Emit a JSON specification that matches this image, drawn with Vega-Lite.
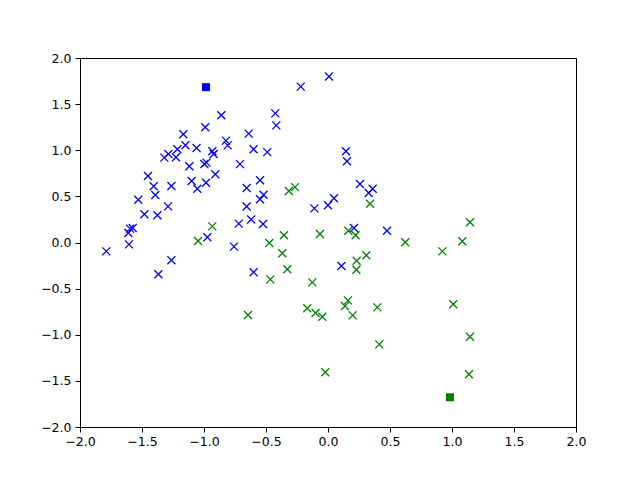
{
  "$schema": "https://vega.github.io/schema/vega-lite/v6.json",
  "width": 496,
  "height": 369,
  "autosize": {"type": "none"},
  "padding": {"left": 80, "top": 58, "right": 64, "bottom": 53},
  "background": "white",
  "config": {
    "view": {"stroke": "black", "strokeWidth": 1},
    "axis": {
      "grid": false,
      "domain": false,
      "tickColor": "black",
      "tickSize": 5,
      "tickWidth": 1,
      "labelFont": "DejaVu Sans",
      "labelFontSize": 12.5,
      "labelColor": "black",
      "labelFlush": false,
      "labelOverlap": false,
      "labelPadding": 4,
      "title": null
    },
    "axisX": {"labelPadding": 3}
  },
  "datasets": {
    "pts": [
      {"x": 0.008, "y": 1.80, "c": "blue"},
      {"x": -0.22, "y": 1.69, "c": "blue"},
      {"x": -0.425, "y": 1.40, "c": "blue"},
      {"x": -0.417, "y": 1.27, "c": "blue"},
      {"x": -0.64, "y": 1.18, "c": "blue"},
      {"x": -0.60, "y": 1.01, "c": "blue"},
      {"x": -0.49, "y": 0.98, "c": "blue"},
      {"x": 0.145, "y": 0.99, "c": "blue"},
      {"x": 0.153, "y": 0.88, "c": "blue"},
      {"x": -0.71, "y": 0.85, "c": "blue"},
      {"x": -0.548, "y": 0.674, "c": "blue"},
      {"x": -0.656, "y": 0.59, "c": "blue"},
      {"x": 0.258, "y": 0.634, "c": "blue"},
      {"x": 0.36, "y": 0.583, "c": "blue"},
      {"x": 0.328, "y": 0.537, "c": "blue"},
      {"x": -0.52, "y": 0.518, "c": "blue"},
      {"x": -0.548, "y": 0.468, "c": "blue"},
      {"x": 0.048, "y": 0.48, "c": "blue"},
      {"x": 0.0, "y": 0.403, "c": "blue"},
      {"x": -0.11, "y": 0.37, "c": "blue"},
      {"x": -0.656, "y": 0.39, "c": "blue"},
      {"x": -0.62, "y": 0.25, "c": "blue"},
      {"x": -0.72, "y": 0.205, "c": "blue"},
      {"x": -0.524, "y": 0.20, "c": "blue"},
      {"x": 0.21, "y": 0.157, "c": "blue"},
      {"x": 0.476, "y": 0.128, "c": "blue"},
      {"x": -0.86, "y": 1.379, "c": "blue"},
      {"x": -0.99, "y": 1.249, "c": "blue"},
      {"x": -1.167, "y": 1.173, "c": "blue"},
      {"x": -1.15, "y": 1.054, "c": "blue"},
      {"x": -1.06, "y": 1.024, "c": "blue"},
      {"x": -1.215, "y": 1.01, "c": "blue"},
      {"x": -1.287, "y": 0.959, "c": "blue"},
      {"x": -1.32, "y": 0.92, "c": "blue"},
      {"x": -1.226, "y": 0.924, "c": "blue"},
      {"x": -0.823, "y": 1.104, "c": "blue"},
      {"x": -0.809, "y": 1.053, "c": "blue"},
      {"x": -0.933, "y": 0.989, "c": "blue"},
      {"x": -0.922, "y": 0.96, "c": "blue"},
      {"x": -1.118, "y": 0.826, "c": "blue"},
      {"x": -0.997, "y": 0.851, "c": "blue"},
      {"x": -0.98, "y": 0.866, "c": "blue"},
      {"x": -0.909, "y": 0.739, "c": "blue"},
      {"x": -1.452, "y": 0.721, "c": "blue"},
      {"x": -1.406, "y": 0.609, "c": "blue"},
      {"x": -1.263, "y": 0.612, "c": "blue"},
      {"x": -1.10, "y": 0.667, "c": "blue"},
      {"x": -1.054, "y": 0.583, "c": "blue"},
      {"x": -0.984, "y": 0.648, "c": "blue"},
      {"x": -1.393, "y": 0.515, "c": "blue"},
      {"x": -1.53, "y": 0.464, "c": "blue"},
      {"x": -1.29, "y": 0.392, "c": "blue"},
      {"x": -1.481, "y": 0.306, "c": "blue"},
      {"x": -1.376, "y": 0.295, "c": "blue"},
      {"x": -1.597, "y": 0.15, "c": "blue"},
      {"x": -1.575, "y": 0.157, "c": "blue"},
      {"x": -1.61, "y": 0.103, "c": "blue"},
      {"x": -1.605, "y": -0.02, "c": "blue"},
      {"x": -0.973, "y": 0.056, "c": "blue"},
      {"x": -0.758, "y": -0.045, "c": "blue"},
      {"x": -1.788, "y": -0.096, "c": "blue"},
      {"x": -1.368, "y": -0.345, "c": "blue"},
      {"x": -1.263, "y": -0.193, "c": "blue"},
      {"x": -0.60, "y": -0.323, "c": "blue"},
      {"x": 0.108, "y": -0.255, "c": "blue"},
      {"x": -0.315, "y": 0.558, "c": "green"},
      {"x": -0.266, "y": 0.60, "c": "green"},
      {"x": 0.339, "y": 0.42, "c": "green"},
      {"x": -0.473, "y": -0.005, "c": "green"},
      {"x": -0.355, "y": 0.078, "c": "green"},
      {"x": -0.065, "y": 0.092, "c": "green"},
      {"x": 0.164, "y": 0.128, "c": "green"},
      {"x": 0.223, "y": 0.078, "c": "green"},
      {"x": 0.623, "y": 0.003, "c": "green"},
      {"x": -0.933, "y": 0.175, "c": "green"},
      {"x": -1.048, "y": 0.016, "c": "green"},
      {"x": -0.645, "y": -0.786, "c": "green"},
      {"x": -0.368, "y": -0.117, "c": "green"},
      {"x": -0.328, "y": -0.29, "c": "green"},
      {"x": -0.465, "y": -0.40, "c": "green"},
      {"x": -0.126, "y": -0.432, "c": "green"},
      {"x": 0.231, "y": -0.197, "c": "green"},
      {"x": 0.309, "y": -0.139, "c": "green"},
      {"x": 0.229, "y": -0.295, "c": "green"},
      {"x": -0.167, "y": -0.713, "c": "green"},
      {"x": -0.10, "y": -0.764, "c": "green"},
      {"x": -0.046, "y": -0.804, "c": "green"},
      {"x": 0.161, "y": -0.627, "c": "green"},
      {"x": 0.137, "y": -0.688, "c": "green"},
      {"x": 0.199, "y": -0.79, "c": "green"},
      {"x": 0.398, "y": -0.703, "c": "green"},
      {"x": 0.414, "y": -1.104, "c": "green"},
      {"x": -0.022, "y": -1.407, "c": "green"},
      {"x": 0.922, "y": -0.096, "c": "green"},
      {"x": 1.083, "y": 0.013, "c": "green"},
      {"x": 1.01, "y": -0.67, "c": "green"},
      {"x": 1.145, "y": -1.021, "c": "green"},
      {"x": 1.137, "y": -1.429, "c": "green"},
      {"x": 1.145, "y": 0.219, "c": "green"}
    ],
    "centers": [
      {"x": -0.984, "y": 1.684, "c": "blue"},
      {"x": 0.984, "y": -1.678, "c": "green"}
    ]
  },
  "layer": [
    {
      "data": {"name": "pts"},
      "mark": {
        "type": "point",
        "shape": "M-1,-1L1,1M-1,1L1,-1",
        "filled": false,
        "size": 64,
        "strokeWidth": 1.3,
        "opacity": 1
      },
      "encoding": {
        "x": {
          "field": "x", "type": "quantitative",
          "scale": {"domain": [-2, 2], "nice": false, "zero": false},
          "axis": {"values": [-2, -1.5, -1, -0.5, 0, 0.5, 1, 1.5, 2], "format": ".1f"}
        },
        "y": {
          "field": "y", "type": "quantitative",
          "scale": {"domain": [-2, 2], "nice": false, "zero": false},
          "axis": {"values": [-2, -1.5, -1, -0.5, 0, 0.5, 1, 1.5, 2], "format": ".1f"}
        },
        "stroke": {
          "field": "c", "type": "nominal",
          "scale": {"domain": ["blue", "green"], "range": ["#0000ff", "#008000"]},
          "legend": null
        }
      }
    },
    {
      "data": {"name": "centers"},
      "mark": {"type": "square", "size": 64, "opacity": 1, "filled": true},
      "encoding": {
        "x": {"field": "x", "type": "quantitative"},
        "y": {"field": "y", "type": "quantitative"},
        "fill": {
          "field": "c", "type": "nominal",
          "scale": {"domain": ["blue", "green"], "range": ["#0000ff", "#008000"]},
          "legend": null
        }
      }
    }
  ]
}
